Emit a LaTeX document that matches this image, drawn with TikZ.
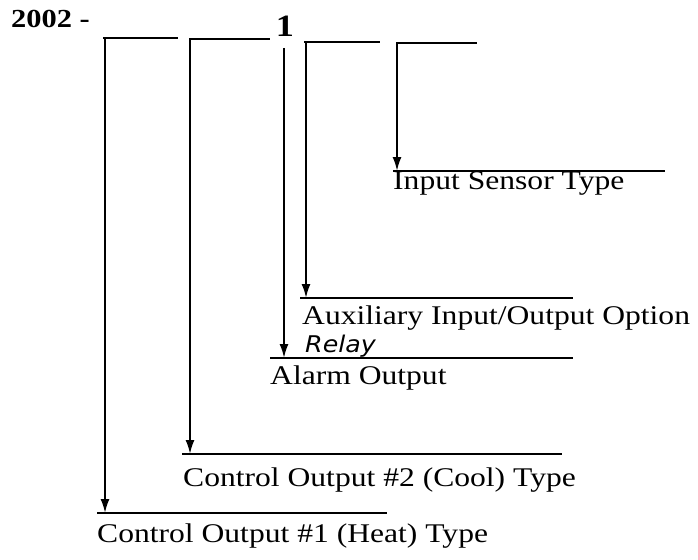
\documentclass[tikz,border=0pt]{standalone}
\usepackage{fontspec}
\setmainfont{Liberation Serif}[FakeStretch=1.17]
\newfontfamily\handfont{DejaVu Sans}[FakeStretch=1.1]
\usepackage{tikz}
\usetikzlibrary{arrows.meta, positioning, calc}
\tikzset{
  lbl/.style={font=\fontsize{27}{30}\selectfont, inner sep=0pt, anchor=base west},
  rule/.style={line width=2pt},
  drop/.style={line width=2pt, -{Latex[length=14pt,width=9pt]}}
}

\begin{document}
\begin{tikzpicture}[x=1pt, y=-1pt]
\useasboundingbox (0,0) rectangle (698,559);
\node[lbl, font=\bfseries\fontsize{26}{30}\selectfont] (part) at (11,28) {2002 -};
\node[font=\bfseries\fontsize{31}{34}\selectfont, inner sep=0pt, anchor=base] (one) at (285,37) {1};
\coordinate (s1a) at (103,38); \coordinate (s1b) at (178,38);
\coordinate (s2a) at (189,39); \coordinate (s2b) at (270,39);
\coordinate (s3a) at (304,42); \coordinate (s3b) at (380,42);
\coordinate (s4a) at (396,43); \coordinate (s4b) at (477,43);
\coordinate (t1) at (105,38); \coordinate (t2) at (190,39);
\coordinate (t3) at (284,48); \coordinate (t4) at (306,42);
\coordinate (t5) at (397,43);
\draw[rule] (s1a) -- (s1b);
\draw[rule] (s2a) -- (s2b);
\draw[rule] (s3a) -- (s3b);
\draw[rule] (s4a) -- (s4b);
\coordinate (h1a) at (97,513); \coordinate (h1b) at (387,513);
\coordinate (h2a) at (182,454); \coordinate (h2b) at (562,454);
\coordinate (h3a) at (270,358); \coordinate (h3b) at (573,358);
\coordinate (h4a) at (300,298); \coordinate (h4b) at (573,298);
\coordinate (h5a) at (393,171); \coordinate (h5b) at (665,171);
\draw[rule] (h1a) -- (h1b);
\draw[rule] (h2a) -- (h2b);
\draw[rule] (h3a) -- (h3b);
\draw[rule] (h4a) -- (h4b);
\draw[rule] (h5a) -- (h5b);
\draw[drop] (t1) -- (t1 |- h1a);
\draw[drop] (t2) -- (t2 |- h2a);
\draw[drop] (t3) -- (t3 |- h3a);
\draw[drop] (t4) -- (t4 |- h4a);
\draw[drop] (t5) -- (t5 |- h5a);
\node[lbl] (heat) at (97,542) {Control Output \#1 (Heat) Type};
\node[lbl] (cool) at (183,486) {Control Output \#2 (Cool) Type};
\node[lbl] (alarm) at (270,384) {Alarm Output};
\node[font=\handfont\itshape\fontsize{23}{26}\selectfont, inner sep=0pt, anchor=base west] (relay) at (305,352) {Relay};
\node[lbl] (aux) at (302,324) {Auxiliary Input/Output Option};
\node[lbl] (sensor) at (393,189) {Input Sensor Type};
\end{tikzpicture}
\end{document}
